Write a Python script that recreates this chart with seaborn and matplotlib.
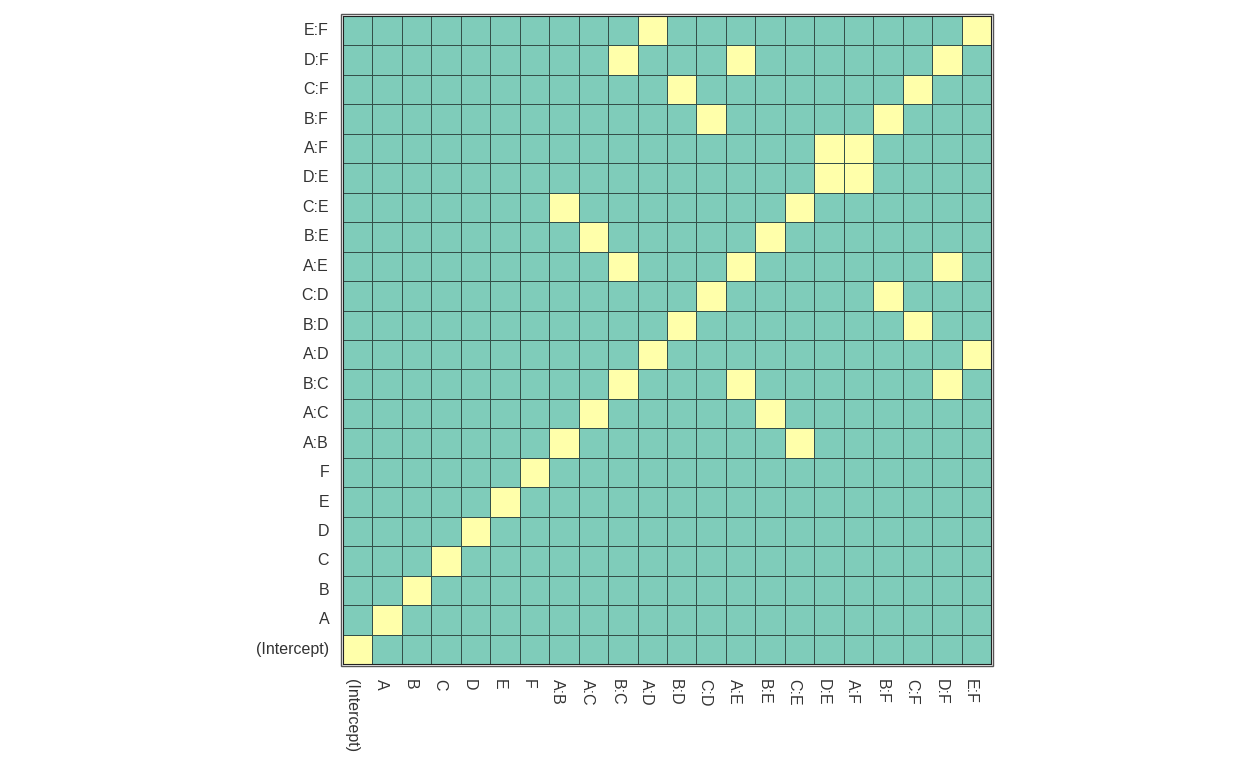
import matplotlib.pyplot as plt
import matplotlib.transforms as mtransforms
import seaborn as sns
import numpy as np
import pandas as pd
from matplotlib.colors import ListedColormap
from matplotlib.patches import Rectangle


terms = ['(Intercept)', 'A', 'B', 'C', 'D', 'E', 'F',
         'A:B', 'A:C', 'B:C', 'A:D', 'B:D', 'C:D', 'A:E', 'B:E', 'C:E',
         'D:E', 'A:F', 'B:F', 'C:F', 'D:F', 'E:F']

# off-diagonal aliased (row term, column term) pairs
aliased = [('A:B', 'C:E'), ('A:C', 'B:E'), ('B:C', 'A:E'), ('B:C', 'D:F'),
           ('A:D', 'E:F'), ('B:D', 'C:F'), ('C:D', 'B:F'),
           ('A:E', 'B:C'), ('A:E', 'D:F'), ('B:E', 'A:C'), ('C:E', 'A:B'),
           ('D:E', 'A:F'), ('A:F', 'D:E'), ('B:F', 'C:D'), ('C:F', 'B:D'),
           ('D:F', 'B:C'), ('D:F', 'A:E'), ('E:F', 'A:D')]

mat = pd.DataFrame(np.eye(len(terms)), index=terms, columns=terms)
for r, c in aliased:
    mat.loc[r, c] = 1
# (Intercept) row at the bottom
mat = mat.iloc[::-1]

plt.rcParams['font.family'] = ['Liberation Sans', 'DejaVu Sans']

fig = plt.figure(figsize=(12.48, 7.68), dpi=100)
ax = fig.add_axes([343 / 1248, 104 / 768, 648 / 1248, 648 / 768])
cmap = ListedColormap(['#7fccba', '#ffffaa'])
sns.heatmap(mat, ax=ax, cmap=cmap, vmin=0, vmax=1, cbar=False,
            linewidths=0.6, linecolor='#34504a', square=False)

ax.tick_params(length=0, labelsize=11.5, labelcolor='#333333')
ax.tick_params(axis='y', pad=10)
ax.tick_params(axis='x', pad=11)
plt.setp(ax.get_yticklabels(), rotation=0, ha='right')
plt.setp(ax.get_xticklabels(), rotation=270, ha='center', va='top')
# x labels sit a little left of the cell centres
shift = mtransforms.ScaledTranslation(-6 / 100, 0, fig.dpi_scale_trans)
for lab in ax.get_xticklabels():
    lab.set_transform(lab.get_transform() + shift)
ax.set_xlabel('')
ax.set_ylabel('')

# double frame around the grid
for s in ax.spines.values():
    s.set_visible(True)
    s.set_color('#222222')
    s.set_linewidth(0.8)
frame = Rectangle((-0.08, -0.08), len(terms) + 0.16, len(terms) + 0.16,
                  fill=False, edgecolor='#555555', linewidth=1.0,
                  clip_on=False, transform=ax.transData)
ax.add_patch(frame)

fig.savefig('out.png', dpi=100)
